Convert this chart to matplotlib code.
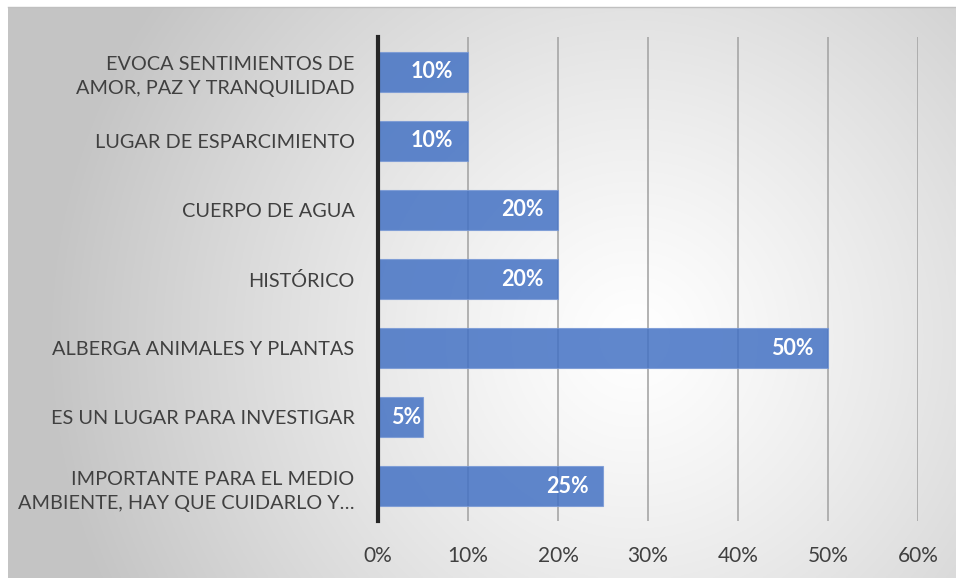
import numpy as np
import matplotlib
matplotlib.use("Agg")
import matplotlib.pyplot as plt
from matplotlib.ticker import FuncFormatter

categories = [
    "EVOCA SENTIMIENTOS DE\nAMOR, PAZ Y TRANQUILIDAD",
    "LUGAR DE ESPARCIMIENTO",
    "CUERPO DE AGUA",
    "HISTÓRICO",
    "ALBERGA ANIMALES Y PLANTAS",
    "ES UN LUGAR PARA INVESTIGAR",
    "IMPORTANTE PARA EL MEDIO\nAMBIENTE, HAY QUE CUIDARLO Y…",
]
values = [0.10, 0.10, 0.20, 0.20, 0.50, 0.05, 0.25]
xticks = [0, 0.1, 0.2, 0.3, 0.4, 0.5, 0.6]

plt.rcParams['font.family'] = ['Lato', 'DejaVu Sans']

W, H = 956, 578
fig = plt.figure(figsize=(W / 100, H / 100), dpi=100)

# background radial gradient
bg = fig.add_axes([8 / W, 0, (W - 8) / W, (H - 7) / H], zorder=0)
ny, nx = 300, 500
yy, xx = np.mgrid[0:ny, 0:nx]
cx, cy = nx * 0.66, ny * 0.58
r = np.sqrt(((xx - cx) / nx) ** 2 + ((yy - cy) / ny * 0.6) ** 2)
r = np.clip(r / 0.62, 0, 1)
val = 1.0 - 0.23 * r ** 1.2
img = np.dstack([val, val, val])
bg.imshow(img, aspect='auto', extent=[0, 1, 0, 1], origin='upper')
bg.set_axis_off()
fig.add_artist(plt.Line2D([8 / W, 1], [1 - 7 / H, 1 - 7 / H], color='#c0c0c0', lw=1))

x0, x1 = 378, 918
ytop, ybot = 37, 521
ax = fig.add_axes([x0 / W, 1 - ybot / H, (x1 - x0) / W, (ybot - ytop) / H], zorder=1)
ax.patch.set_alpha(0)
ypos = np.arange(len(categories))
bars = ax.barh(ypos, values, height=0.58, color='#4472C4', alpha=0.85,
               edgecolor='#7a9ad6', linewidth=0.8, zorder=2)
ax.set_ylim(len(categories) - 0.5, -0.5)
ax.set_xlim(0, 0.6)
ax.set_xticks(xticks)
ax.xaxis.set_major_formatter(FuncFormatter(lambda v, p: f"{round(v * 100)}%"))
ax.set_yticks(ypos)
ax.set_yticklabels(categories, fontsize=14.3, color='#404040', linespacing=1.5)
ax.tick_params(axis='x', labelsize=15, labelcolor='#404040', length=0, pad=18)
ax.tick_params(axis='y', length=0, pad=17)
ax.grid(axis='x', color='#a6a6a6', linewidth=1.2, zorder=1)
ax.grid(axis='y', visible=False)
for s in ['top', 'right', 'bottom']:
    ax.spines[s].set_visible(False)
ax.spines['left'].set_color('#262626')
ax.spines['left'].set_linewidth(3)
ax.spines['left'].set_zorder(3)

for b, v in zip(bars, values):
    ax.text(v - 0.016 if v > 0.07 else v - 0.002, b.get_y() + b.get_height() / 2,
            f"{round(v * 100)}%", ha='right', va='center', color='white',
            fontsize=15.5, fontweight='bold', zorder=4)

fig.savefig("out.png", dpi=100)
